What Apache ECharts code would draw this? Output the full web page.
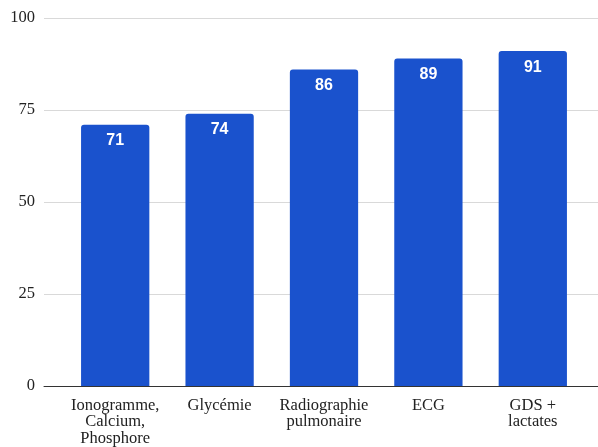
<!DOCTYPE html>
<html>
<head>
<meta charset="utf-8">
<script src="https://cdn.jsdelivr.net/npm/echarts@6/dist/echarts.min.js"></script>
<style>
  html, body { margin: 0; padding: 0; background: #ffffff; }
  #chart { width: 598px; height: 447px; }
</style>
</head>
<body>
<div id="chart"></div>
<script>
// Examens réalisés (%)
const categories = [
  'Ionogramme,\nCalcium,\nPhosphore',
  'Glycémie',
  'Radiographie\npulmonaire',
  'ECG',
  'GDS +\nlactates'
];
const values = [71, 74, 86, 89, 91];
const yTicks = { min: 0, max: 100, interval: 25 };

const serif = '"Liberation Serif", "Times New Roman", serif';
const barColor = '#1a52cd';

const chart = echarts.init(document.getElementById('chart'), null, { renderer: 'canvas' });

chart.setOption({
  animation: false,
  backgroundColor: '#ffffff',
  grid: [
    // gridlines + baseline across the full width
    { left: 44, right: 0, top: 18, bottom: 61, containLabel: false },
    // bars
    { left: 63, right: 13, top: 18, bottom: 61, containLabel: false }
  ],
  xAxis: [
    {
      gridIndex: 0,
      type: 'category',
      data: [''],
      axisLine: { show: true, lineStyle: { color: '#333333', width: 1 } },
      axisTick: { show: false },
      axisLabel: { show: false },
      splitLine: { show: false }
    },
    {
      gridIndex: 1,
      type: 'category',
      data: categories,
      axisLine: { show: false },
      axisTick: { show: false },
      axisLabel: {
        fontFamily: serif,
        fontSize: 16.5,
        lineHeight: 16.5,
        color: '#222222',
        margin: 11,
        interval: 0,
        align: 'center'
      }
    }
  ],
  yAxis: [
    {
      gridIndex: 0,
      type: 'value',
      min: yTicks.min,
      max: yTicks.max,
      interval: yTicks.interval,
      axisLine: { show: false },
      axisTick: { show: false },
      axisLabel: {
        fontFamily: serif,
        fontSize: 16.5,
        color: '#222222',
        margin: 9
      },
      splitLine: { show: true, lineStyle: { color: '#d9d9d9', width: 1 } }
    },
    {
      gridIndex: 1,
      type: 'value',
      min: yTicks.min,
      max: yTicks.max,
      interval: yTicks.interval,
      show: false,
      splitLine: { show: false }
    }
  ],
  series: [
    {
      type: 'bar',
      xAxisIndex: 1,
      yAxisIndex: 1,
      data: values,
      barWidth: '65.4%',
      itemStyle: { color: barColor, borderRadius: [3, 3, 0, 0] },
      label: {
        show: true,
        position: 'insideTop',
        distance: 8,
        color: '#ffffff',
        fontFamily: '"Liberation Sans", Arial, sans-serif',
        fontSize: 16,
        fontWeight: 'bold'
      }
    }
  ]
});
</script>
</body>
</html>
